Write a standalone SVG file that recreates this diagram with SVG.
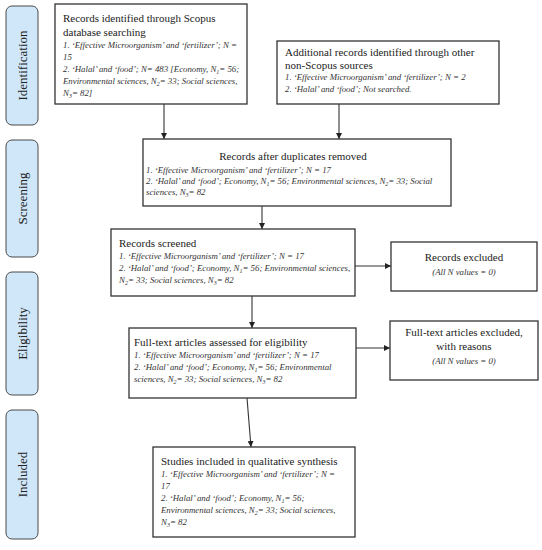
<svg xmlns="http://www.w3.org/2000/svg" width="542" height="550" viewBox="0 0 542 550">
<style>
.box{fill:#fff;stroke:#333;stroke-width:1.3}
.side{fill:#cfe7f9;stroke:#4a4a4a;stroke-width:1}
.sl{font-family:"Liberation Serif","Times New Roman",serif;font-size:13px;fill:#222;text-anchor:middle}
.t{font-family:"Liberation Serif","Times New Roman",serif;font-size:11px;fill:#222}
.i{font-family:"Liberation Serif","Times New Roman",serif;font-size:8.8px;font-style:italic;fill:#333}
.c{text-anchor:middle}
.s{font-size:6px}
.ln{stroke:#333;stroke-width:1.1;fill:none;marker-end:url(#ah)}
</style>
<defs>
<marker id="ah" viewBox="0 0 10 10" refX="10" refY="5" markerWidth="6" markerHeight="6" markerUnits="userSpaceOnUse" orient="auto">
<path d="M0,0 L10,5 L0,10 z" fill="#222"/>
</marker>
</defs>
<rect width="542" height="550" fill="#fff"/>
<g id="phases">
<g id="phase-identification"><rect class="side" x="6" y="6" width="32" height="119" rx="6"/><text class="sl" transform="translate(26.5,65.5) rotate(-90)">Identification</text></g>
<g id="phase-screening"><rect class="side" x="6" y="140" width="32" height="117" rx="6"/><text class="sl" transform="translate(26.5,198.5) rotate(-90)">Screening</text></g>
<g id="phase-eligibility"><rect class="side" x="6" y="272" width="32" height="123" rx="6"/><text class="sl" transform="translate(26.5,333.5) rotate(-90)">Eligibility</text></g>
<g id="phase-included"><rect class="side" x="6" y="410" width="32" height="129" rx="6"/><text class="sl" transform="translate(26.5,474.5) rotate(-90)">Included</text></g>
</g>
<g id="connectors">
<line class="ln" x1="164" y1="104" x2="164" y2="139"/>
<line class="ln" x1="339" y1="104" x2="339" y2="139"/>
<line class="ln" x1="262" y1="206" x2="262" y2="229"/>
<line class="ln" x1="355" y1="266" x2="391" y2="266"/>
<line class="ln" x1="252" y1="296" x2="252" y2="328"/>
<line class="ln" x1="356" y1="348" x2="390" y2="348"/>
<line class="ln" x1="247" y1="398" x2="251" y2="447"/>
</g>
<g id="scopus">
<rect class="box" x="55" y="4" width="192" height="100"/>
<text class="t" x="63" y="22">Records identified through Scopus</text>
<text class="t" x="63" y="36">database searching</text>
<text class="i" x="63" y="48">1. ‘Effective Microorganism’ and ‘fertilizer’; N =</text>
<text class="i" x="63" y="60">15</text>
<text class="i" x="63" y="72">2. ‘Halal’ and ‘food’; N= 483 [Economy, N<tspan class="s" dy="2">1</tspan><tspan dy="-2">= 56;</tspan></text>
<text class="i" x="63" y="84">Environmental sciences, N<tspan class="s" dy="2">2</tspan><tspan dy="-2">= 33; Social sciences,</tspan></text>
<text class="i" x="63" y="96">N<tspan class="s" dy="2">3</tspan><tspan dy="-2">= 82]</tspan></text>
</g>
<g id="other-sources">
<rect class="box" x="277" y="41" width="222" height="63"/>
<text class="t" x="285" y="56">Additional records identified through other</text>
<text class="t" x="285" y="69">non-Scopus sources</text>
<text class="i" x="285" y="80">1. ‘Effective Microorganism’ and ‘fertilizer’; N =  2</text>
<text class="i" x="285" y="92">2. ‘Halal’ and ‘food’; Not searched.</text>
</g>
<g id="duplicates-removed">
<rect class="box" x="143" y="139" width="308" height="67"/>
<text class="t c" x="293" y="160">Records after duplicates removed</text>
<text class="i" x="146" y="173">1. ‘Effective Microorganism’ and ‘fertilizer’; N =  17</text>
<text class="i" x="146" y="184">2. ‘Halal’ and ‘food’; Economy, N<tspan class="s" dy="2">1</tspan><tspan dy="-2">= 56; Environmental sciences, N</tspan><tspan class="s" dy="2">2</tspan><tspan dy="-2">= 33; Social</tspan></text>
<text class="i" x="146" y="195">sciences, N<tspan class="s" dy="2">3</tspan><tspan dy="-2">= 82</tspan></text>
</g>
<g id="records-screened">
<rect class="box" x="111" y="229" width="244" height="67"/>
<text class="t" x="119" y="247">Records screened</text>
<text class="i" x="119" y="259">1. ‘Effective Microorganism’ and ‘fertilizer’; N =  17</text>
<text class="i" x="119" y="271">2. ‘Halal’ and ‘food’; Economy, N<tspan class="s" dy="2">1</tspan><tspan dy="-2">= 56; Environmental sciences,</tspan></text>
<text class="i" x="119" y="283">N<tspan class="s" dy="2">2</tspan><tspan dy="-2">= 33; Social sciences, N</tspan><tspan class="s" dy="2">3</tspan><tspan dy="-2">= 82</tspan></text>
</g>
<g id="records-excluded">
<rect class="box" x="391" y="242" width="146" height="49"/>
<text class="t c" x="464" y="261">Records excluded</text>
<text class="i c" x="464" y="275">(All N values = 0)</text>
</g>
<g id="full-text-assessed">
<rect class="box" x="129" y="328" width="227" height="70"/>
<text class="t" x="134" y="346">Full-text articles assessed for eligibility</text>
<text class="i" x="134" y="358">1. ‘Effective Microorganism’ and ‘fertilizer’; N =  17</text>
<text class="i" x="134" y="370">2. ‘Halal’ and ‘food’; Economy, N<tspan class="s" dy="2">1</tspan><tspan dy="-2">= 56; Environmental</tspan></text>
<text class="i" x="134" y="382">sciences, N<tspan class="s" dy="2">2</tspan><tspan dy="-2">= 33; Social sciences, N</tspan><tspan class="s" dy="2">3</tspan><tspan dy="-2">= 82</tspan></text>
</g>
<g id="full-text-excluded">
<rect class="box" x="390" y="321" width="148" height="59"/>
<text class="t c" x="464" y="336">Full-text articles excluded,</text>
<text class="t c" x="464" y="350">with reasons</text>
<text class="i c" x="464" y="364">(All N values = 0)</text>
</g>
<g id="studies-included">
<rect class="box" x="153" y="447" width="202" height="90"/>
<text class="t" x="161" y="465">Studies included in qualitative synthesis</text>
<text class="i" x="161" y="477">1. ‘Effective Microorganism’ and ‘fertilizer’; N =</text>
<text class="i" x="161" y="489">17</text>
<text class="i" x="161" y="501">2. ‘Halal’ and ‘food’; Economy, N<tspan class="s" dy="2">1</tspan><tspan dy="-2">= 56;</tspan></text>
<text class="i" x="161" y="513">Environmental sciences, N<tspan class="s" dy="2">2</tspan><tspan dy="-2">= 33; Social sciences,</tspan></text>
<text class="i" x="161" y="525">N<tspan class="s" dy="2">3</tspan><tspan dy="-2">= 82</tspan></text>
</g>
</svg>
